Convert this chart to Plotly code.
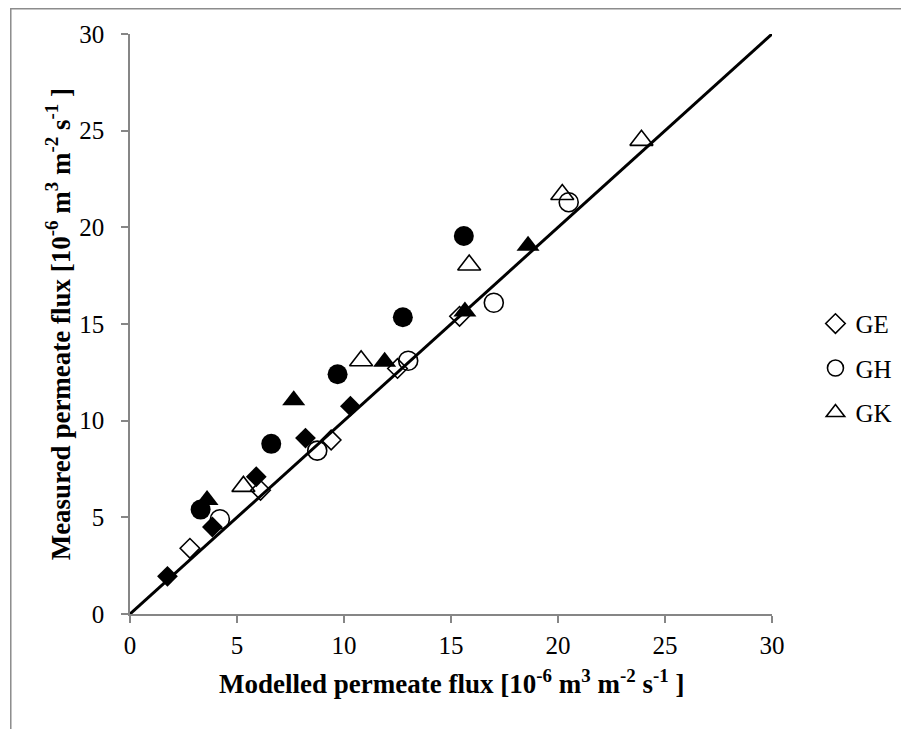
import plotly.graph_objects as go

# ---- data ----
ge_open_x = [2.8, 6.1, 9.4, 12.5, 15.4]
ge_open_y = [3.4, 6.4, 9.0, 12.7, 15.4]
ge_fill_x = [1.75, 3.85, 5.9, 8.2, 10.3]
ge_fill_y = [1.95, 4.5, 7.1, 9.1, 10.75]

gh_open_x = [4.2, 8.75, 13.0, 17.0, 20.5]
gh_open_y = [4.9, 8.45, 13.1, 16.1, 21.3]
gh_fill_x = [3.3, 6.6, 9.7, 12.75, 15.6]
gh_fill_y = [5.4, 8.8, 12.4, 15.35, 19.55]

gk_open_x = [5.3, 10.8, 15.85, 20.2, 23.9]
gk_open_y = [6.6, 13.1, 18.05, 21.7, 24.5]
gk_fill_x = [3.6, 7.65, 11.9, 15.65, 18.6]
gk_fill_y = [5.9, 11.05, 13.05, 15.65, 19.05]

line_x = [0, 30]
line_y = [0, 30]

tick_vals = [0, 5, 10, 15, 20, 25, 30]

FONT = "Liberation Serif, Times New Roman, serif"
AXIS_GRAY = "#868686"

fig = go.Figure()

fig.add_trace(go.Scatter(x=line_x, y=line_y, mode="lines",
                         line=dict(color="black", width=3),
                         showlegend=False, hoverinfo="skip"))

open_style = dict(color="black", width=1.6)

fig.add_trace(go.Scatter(x=ge_open_x, y=ge_open_y, mode="markers", name="GE",
                         legendgroup="GE",
                         marker=dict(symbol="diamond-open", size=15, color="black",
                                     line=open_style)))
fig.add_trace(go.Scatter(x=gh_open_x, y=gh_open_y, mode="markers", name="GH",
                         legendgroup="GH",
                         marker=dict(symbol="circle-open", size=19, color="black",
                                     line=open_style)))
fig.add_trace(go.Scatter(x=gk_open_x, y=gk_open_y, mode="markers", name="GK",
                         legendgroup="GK",
                         marker=dict(symbol="triangle-up-open", size=20, color="black",
                                     line=open_style)))

fig.add_trace(go.Scatter(x=ge_fill_x, y=ge_fill_y, mode="markers", name="GE filled",
                         showlegend=False,
                         marker=dict(symbol="diamond", size=16, color="black")))
fig.add_trace(go.Scatter(x=gh_fill_x, y=gh_fill_y, mode="markers", name="GH filled",
                         showlegend=False,
                         marker=dict(symbol="circle", size=20, color="black")))
fig.add_trace(go.Scatter(x=gk_fill_x, y=gk_fill_y, mode="markers", name="GK filled",
                         showlegend=False,
                         marker=dict(symbol="triangle-up", size=20, color="black")))

axis_common = dict(
    range=[0, 30], tickvals=tick_vals, ticktext=[str(v) for v in tick_vals],
    showgrid=False, zeroline=False, showline=True, linecolor=AXIS_GRAY,
    linewidth=1.5, ticks="outside", ticklen=7, tickwidth=1.5, tickcolor=AXIS_GRAY,
    tickfont=dict(family=FONT, size=25, color="black"),
    fixedrange=True,
)

fig.update_layout(
    width=901, height=721,
    margin=dict(l=122, r=129, t=26, b=115),
    paper_bgcolor="white", plot_bgcolor="white",
    font=dict(family=FONT, color="black"),
    xaxis=dict(**axis_common, ticklabelstandoff=1),
    yaxis=dict(**axis_common, ticklabelstandoff=12),
    legend=dict(x=1.0677, xanchor="left", y=0.54, yanchor="top",
                font=dict(family=FONT, size=25, color="black"),
                tracegroupgap=9, bgcolor="rgba(0,0,0,0)",
                traceorder="grouped", itemwidth=30),
    annotations=[
        dict(text="Modelled permeate flux [10<sup>-6</sup> m<sup>3</sup> m<sup>-2</sup> s<sup>-1</sup> ]",
             xref="paper", yref="paper", x=0.5, y=-0.118, xanchor="center", yanchor="middle",
             showarrow=False, font=dict(family=FONT, size=27, color="black", weight="bold")),
        dict(text="Measured permeate flux [10<sup>-6</sup> m<sup>3</sup> m<sup>-2</sup> s<sup>-1</sup> ]",
             xref="paper", yref="paper", x=-0.1116, y=0.5, xanchor="center", yanchor="middle",
             textangle=-90, showarrow=False,
             font=dict(family=FONT, size=27, color="black", weight="bold")),
    ],
    shapes=[
        dict(type="rect", xref="paper", yref="paper", x0=-0.1857, x1=1.3, y0=-0.3, y1=1.0435,
             line=dict(color="#8c8c8c", width=1.5), fillcolor="rgba(0,0,0,0)", layer="below"),
    ],
)

fig.write_html("out.html")
